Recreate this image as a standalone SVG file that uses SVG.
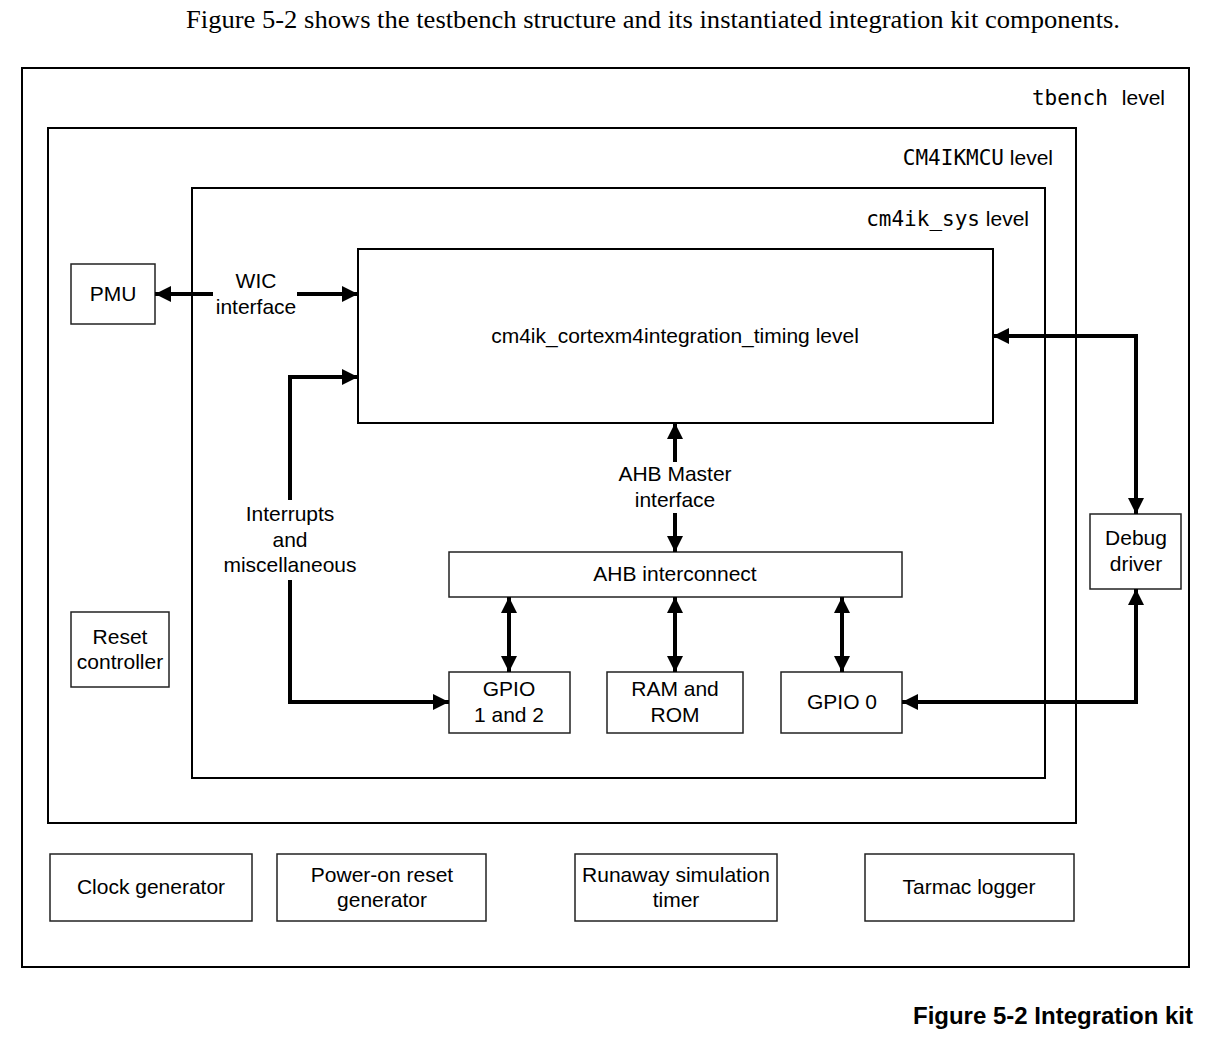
<svg xmlns="http://www.w3.org/2000/svg" width="1206" height="1037" viewBox="0 0 1206 1037">
  <style>
    .frame { fill: #fff; stroke: #000; stroke-width: 2; }
    .box { fill: #fff; stroke: #222; stroke-width: 1.5; }
    .lbl { font-family: "Liberation Sans", Arial, sans-serif; font-size: 21px; fill: #000; text-anchor: middle; }
    .lvl { font-family: "Liberation Sans", Arial, sans-serif; font-size: 21px; fill: #000; text-anchor: end; }
    .mono { font-family: "DejaVu Sans Mono", monospace; }
    .wire { fill: none; stroke: #000; stroke-width: 4; stroke-linejoin: miter; }
  </style>
  <defs>
    <marker id="arrow" viewBox="0 0 16 16" refX="16" refY="8" markerWidth="16" markerHeight="16" markerUnits="userSpaceOnUse" orient="auto-start-reverse">
      <path d="M0,0 L16,8 L0,16 Z" fill="#000"/>
    </marker>
  </defs>
  <rect width="1206" height="1037" fill="#fff"/>

  <text x="186" y="28" font-family="Liberation Serif, Times New Roman, serif" font-size="25" textLength="934" lengthAdjust="spacingAndGlyphs">Figure 5-2 shows the testbench structure and its instantiated integration kit components.</text>

  <!-- hierarchy frames -->
  <g id="tbench">
    <rect class="frame" x="22" y="68" width="1167" height="899"/>
    <text class="lvl" x="1165" y="105"><tspan class="mono">tbench</tspan><tspan dx="14">level</tspan></text>
  </g>
  <g id="cm4ikmcu">
    <rect class="frame" x="48" y="128" width="1028" height="695"/>
    <text class="lvl" x="1053" y="165"><tspan class="mono">CM4IKMCU</tspan> level</text>
  </g>
  <g id="cm4ik_sys">
    <rect class="frame" x="192" y="188" width="853" height="590"/>
    <text class="lvl" x="1029" y="226"><tspan class="mono">cm4ik_sys</tspan> level</text>
  </g>

  <!-- blocks -->
  <g id="timing">
    <rect class="frame" x="358" y="249" width="635" height="174"/>
    <text class="lbl" x="675" y="343">cm4ik_cortexm4integration_timing level</text>
  </g>
  <g id="pmu">
    <rect class="box" x="71" y="264" width="84" height="60"/>
    <text class="lbl" x="113" y="301">PMU</text>
  </g>
  <g id="reset_controller">
    <rect class="box" x="71" y="612" width="98" height="75"/>
    <text class="lbl" x="120" y="644">Reset</text>
    <text class="lbl" x="120" y="669">controller</text>
  </g>
  <g id="ahb_interconnect">
    <rect class="box" x="449" y="552" width="453" height="45"/>
    <text class="lbl" x="675" y="581">AHB interconnect</text>
  </g>
  <g id="gpio12">
    <rect class="box" x="449" y="672" width="121" height="61"/>
    <text class="lbl" x="509" y="696">GPIO</text>
    <text class="lbl" x="509" y="722">1 and 2</text>
  </g>
  <g id="ram_rom">
    <rect class="box" x="607" y="672" width="136" height="61"/>
    <text class="lbl" x="675" y="696">RAM and</text>
    <text class="lbl" x="675" y="722">ROM</text>
  </g>
  <g id="gpio0">
    <rect class="box" x="781" y="672" width="121" height="61"/>
    <text class="lbl" x="842" y="709">GPIO 0</text>
  </g>
  <g id="debug_driver">
    <rect class="box" x="1090" y="514" width="91" height="75"/>
    <text class="lbl" x="1136" y="545">Debug</text>
    <text class="lbl" x="1136" y="571">driver</text>
  </g>
  <g id="clock_generator">
    <rect class="box" x="50" y="854" width="202" height="67"/>
    <text class="lbl" x="151" y="894">Clock generator</text>
  </g>
  <g id="por_generator">
    <rect class="box" x="277" y="854" width="209" height="67"/>
    <text class="lbl" x="382" y="882">Power-on reset</text>
    <text class="lbl" x="382" y="907">generator</text>
  </g>
  <g id="runaway_timer">
    <rect class="box" x="575" y="854" width="202" height="67"/>
    <text class="lbl" x="676" y="882">Runaway simulation</text>
    <text class="lbl" x="676" y="907">timer</text>
  </g>
  <g id="tarmac_logger">
    <rect class="box" x="865" y="854" width="209" height="67"/>
    <text class="lbl" x="969" y="894">Tarmac logger</text>
  </g>

  <!-- connectors -->
  <g id="connectors">
    <path class="wire" d="M213,294 H155" marker-end="url(#arrow)"/>
    <path class="wire" d="M297,294 H358" marker-end="url(#arrow)"/>
    <text class="lbl" x="256" y="288">WIC</text>
    <text class="lbl" x="256" y="314">interface</text>

    <path class="wire" d="M290,500 V377 H358" marker-end="url(#arrow)"/>
    <path class="wire" d="M290,580 V702 H449" marker-end="url(#arrow)"/>
    <text class="lbl" x="290" y="521">Interrupts</text>
    <text class="lbl" x="290" y="547">and</text>
    <text class="lbl" x="290" y="572">miscellaneous</text>

    <path class="wire" d="M675,462 V423" marker-end="url(#arrow)"/>
    <path class="wire" d="M675,513 V552" marker-end="url(#arrow)"/>
    <text class="lbl" x="675" y="481">AHB Master</text>
    <text class="lbl" x="675" y="507">interface</text>

    <path class="wire" d="M509,597 V672" marker-start="url(#arrow)" marker-end="url(#arrow)"/>
    <path class="wire" d="M675,597 V672" marker-start="url(#arrow)" marker-end="url(#arrow)"/>
    <path class="wire" d="M842,597 V672" marker-start="url(#arrow)" marker-end="url(#arrow)"/>

    <path class="wire" d="M993,336 H1136 V514" marker-start="url(#arrow)" marker-end="url(#arrow)"/>
    <path class="wire" d="M902,702 H1136 V589" marker-start="url(#arrow)" marker-end="url(#arrow)"/>
  </g>

  <text x="1193" y="1024" font-family="Liberation Sans, Arial, sans-serif" font-size="24" font-weight="bold" text-anchor="end">Figure 5-2 Integration kit</text>
</svg>
